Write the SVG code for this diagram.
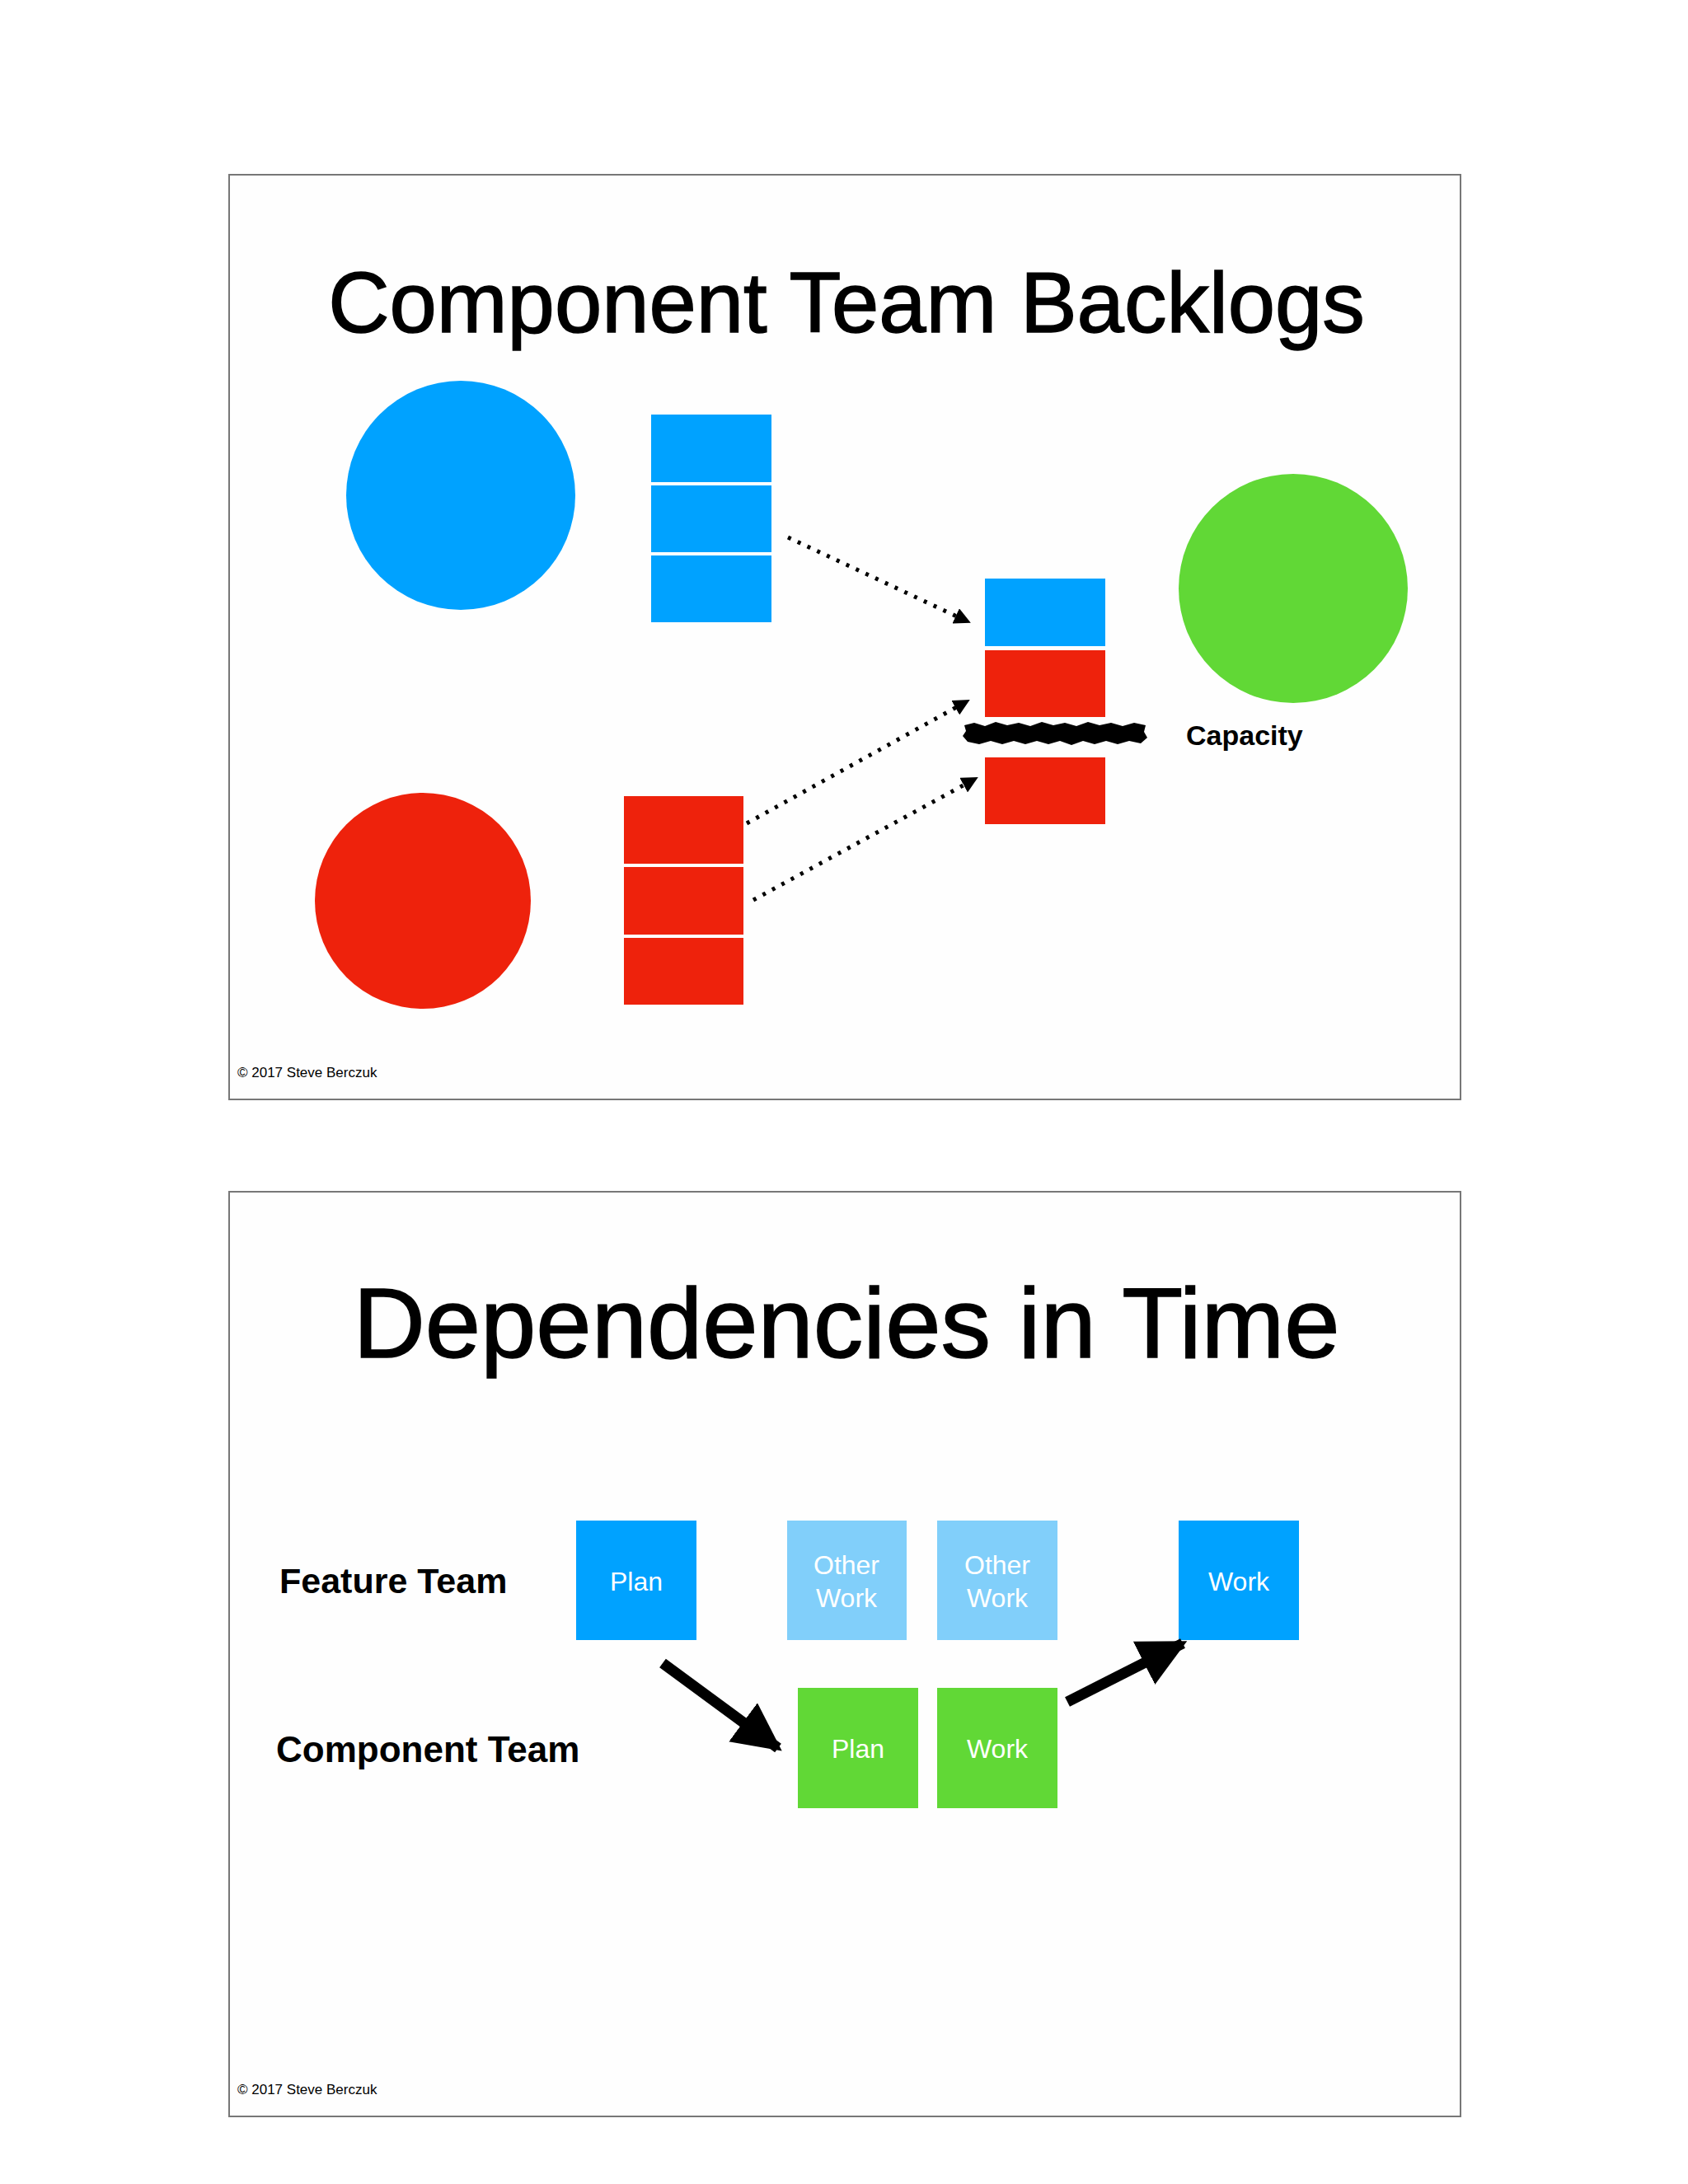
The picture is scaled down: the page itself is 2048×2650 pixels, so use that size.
<svg xmlns="http://www.w3.org/2000/svg" width="2048" height="2650" viewBox="0 0 2048 2650">
<defs>
<style>
.frame{fill:#fefefe;stroke:#777;stroke-width:2}
.t{font-family:"Liberation Sans",Arial,sans-serif}
.b{fill:#00A2FF}.r{fill:#EE220C}.g{fill:#61D836}.lb{fill:#81CFFA}
.wt{font-family:"Liberation Sans",Arial,sans-serif;font-size:32px;fill:#fff;text-anchor:middle}
.dot{stroke:#000;stroke-width:5;stroke-dasharray:4 9;fill:none}
.thick{stroke:#000;stroke-width:13;fill:none}
</style>
<marker id="ah" viewBox="0 0 10 10" refX="9" refY="5" markerWidth="4" markerHeight="4" markerUnits="strokeWidth" orient="auto"><path d="M0,0L10,5L0,10z" fill="#000"/></marker>
<marker id="ah2" viewBox="0 0 10 10" refX="9" refY="5" markerWidth="4.5" markerHeight="4.5" markerUnits="strokeWidth" orient="auto"><path d="M0,0L10,5L0,10z" fill="#000"/></marker>
</defs>
<rect width="2048" height="2650" fill="#fff"/>
<g id="slide1">
<rect class="frame" x="278" y="212" width="1494" height="1122"/>
<text class="t" x="1027" y="403" font-size="103" text-anchor="middle" stroke="#000" stroke-width="1.5">Component Team Backlogs</text>
<g id="blueCircle"><circle class="b" cx="559" cy="601" r="139"/></g>
<g id="greenCircle"><circle class="g" cx="1569" cy="714" r="139"/></g>
<g id="redCircle"><circle class="r" cx="513" cy="1093" r="131"/></g>
<g id="blueStack"><rect class="b" x="790" y="503" width="146" height="82"/><rect class="b" x="790" y="589" width="146" height="81"/><rect class="b" x="790" y="674" width="146" height="81"/></g>
<g id="redStack"><rect class="r" x="757" y="966" width="145" height="82"/><rect class="r" x="757" y="1052" width="145" height="82"/><rect class="r" x="757" y="1138" width="145" height="81"/></g>
<g id="midStack"><rect class="b" x="1195" y="702" width="146" height="82"/><rect class="r" x="1195" y="789" width="146" height="81"/><rect class="r" x="1195" y="919" width="146" height="81"/>
<path d="M1170,880 L1182,877 1195,881 1208,876 1222,880 1236,877 1250,881 1264,876 1278,880 1292,877 1306,881 1320,876 1334,880 1348,877 1362,881 1376,877 1390,880 1388,888 1392,895 1384,902 1370,899 1356,903 1342,899 1328,903 1314,899 1300,904 1286,899 1272,903 1258,899 1244,903 1230,899 1216,903 1202,899 1188,903 1174,900 1168,893 1172,887 Z" fill="#000"/>
</g>
<text class="t" x="1439" y="904" font-size="34" font-weight="bold">Capacity</text>
<g id="connectors1">
<line class="dot" x1="956" y1="652" x2="1176" y2="755" marker-end="url(#ah)"/>
<line class="dot" x1="906" y1="999" x2="1175" y2="850" marker-end="url(#ah)"/>
<line class="dot" x1="914" y1="1092" x2="1185" y2="944" marker-end="url(#ah)"/>
</g>
<text class="t" x="288" y="1307" font-size="17">© 2017 Steve Berczuk</text>
</g>
<g id="slide2">
<rect class="frame" x="278" y="1446" width="1494" height="1122"/>
<text class="t" x="1027" y="1647" font-size="121" text-anchor="middle" stroke="#000" stroke-width="1.5">Dependencies in Time</text>
<text class="t" x="339" y="1933" font-size="43" font-weight="bold">Feature Team</text>
<text class="t" x="335" y="2138" font-size="44" font-weight="bold">Component Team</text>
<g id="ftPlan"><rect class="b" x="699" y="1845" width="146" height="145"/><text class="wt" x="772" y="1930">Plan</text></g>
<g id="other1"><rect class="lb" x="955" y="1845" width="145" height="145"/><text class="wt" x="1027" y="1910">Other</text><text class="wt" x="1027" y="1950">Work</text></g>
<g id="other2"><rect class="lb" x="1137" y="1845" width="146" height="145"/><text class="wt" x="1210" y="1910">Other</text><text class="wt" x="1210" y="1950">Work</text></g>
<g id="ftWork"><rect class="b" x="1430" y="1845" width="146" height="145"/><text class="wt" x="1503" y="1930">Work</text></g>
<g id="ctPlan"><rect class="g" x="968" y="2048" width="146" height="146"/><text class="wt" x="1041" y="2133">Plan</text></g>
<g id="ctWork"><rect class="g" x="1137" y="2048" width="146" height="146"/><text class="wt" x="1210" y="2133">Work</text></g>
<g id="connectors2">
<line class="thick" x1="804" y1="2018" x2="944" y2="2121" marker-end="url(#ah2)"/>
<line class="thick" x1="1295" y1="2065" x2="1435" y2="1994" marker-end="url(#ah2)"/>
</g>
<text class="t" x="288" y="2541" font-size="17">© 2017 Steve Berczuk</text>
</g>
</svg>
